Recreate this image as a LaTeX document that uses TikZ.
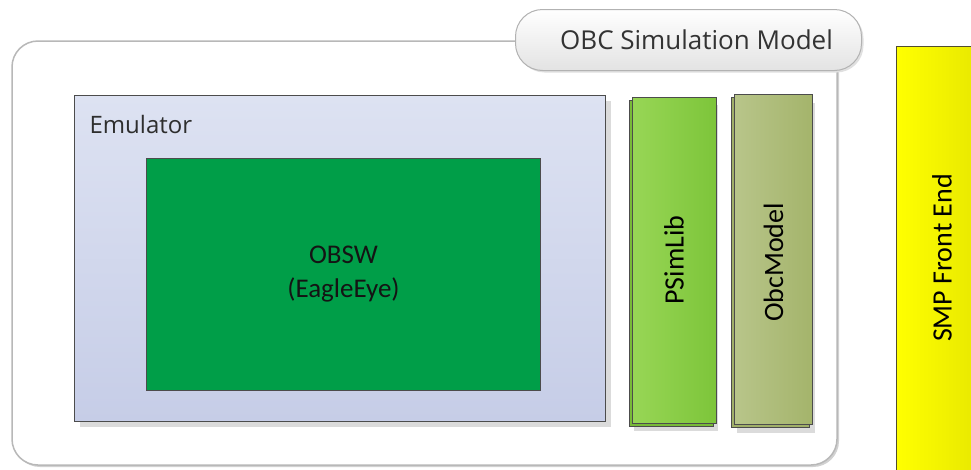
\documentclass[tikz,border=0pt]{standalone}
\usepackage{fontspec}
\setmainfont{Carlito}
\newfontfamily\titlefont{Open Sans}
\usetikzlibrary{calc,shapes,positioning,shadows}

\definecolor{emutop}{HTML}{DDE2F2}
\definecolor{emubot}{HTML}{C6CDE7}
\definecolor{obswgreen}{HTML}{009E48}
\definecolor{psimleft}{HTML}{98D656}
\definecolor{psimright}{HTML}{7DC53A}
\definecolor{psimback}{HTML}{78BA38}
\definecolor{obcleft}{HTML}{B8C58A}
\definecolor{obcright}{HTML}{A4B46B}
\definecolor{obcback}{HTML}{A0AF68}
\definecolor{smpleft}{HTML}{FFFF00}
\definecolor{smpright}{HTML}{E6E600}

\begin{document}
\begin{tikzpicture}[x=1pt,y=1pt,
    box/.style={draw=black!70,line width=1pt,rectangle,inner sep=0pt,anchor=north west},
    boxshadow/.style={drop shadow={shadow xshift=5pt,shadow yshift=-5pt,fill=black!14,opacity=1}},
    vlabel/.style={rotate=90,font=\fontsize{28}{32}\selectfont,text=black},
  ]
  \clip (0,0) rectangle (971,-469);
  \fill[white] (0,0) rectangle (971,-469);

  % outer frame of the simulation model
  \draw[draw=black!28,line width=1.5pt,rounded corners=26pt,fill=white,
    drop shadow={shadow xshift=2pt,shadow yshift=-2pt,fill=black!18,opacity=1}]
    (12,-41) coordinate(f1) rectangle (837,-465) coordinate(f2);

  % title tab
  \node[draw=black!30,line width=1pt,rounded corners=27pt,top color=white,bottom color=black!11,
    minimum width=346,minimum height=61,anchor=north west,
    drop shadow={shadow xshift=2pt,shadow yshift=-2pt,fill=black!12,opacity=1}] (tab) at (515,-9) {};
  \node[font=\titlefont\fontsize{26}{30}\selectfont,text=black!80] (tablabel) at ([xshift=8]tab.center) {OBC Simulation Model};

  % emulator with the flight software inside
  \node[box,boxshadow,top color=emutop,bottom color=emubot,minimum width=531,minimum height=326] (emu) at (74,-95) {};
  \node[anchor=base west,font=\titlefont\fontsize{24}{28}\selectfont,text=black!82] (emulabel) at ([xshift=12,yshift=-38]emu.north west) {Emulator};

  \node[box,fill=obswgreen,minimum width=394,minimum height=232,align=center,
    font=\fontsize{27}{34}\selectfont,text=black!92] (obsw) at (146,-158) {OBSW\\(EagleEye)};

  % stacked library blocks
  \node[box,boxshadow,fill=psimback,minimum width=84,minimum height=326] (psimb) at (628.5,-99.5) {};
  \node[box,left color=psimleft,right color=psimright,minimum width=84,minimum height=326] (psim) at (631.5,-96.5) {};
  \node[vlabel] (psimlabel) at (psim.center) {PSimLib};

  \node[box,boxshadow,fill=obcback,minimum width=78,minimum height=330] (obcb) at (731,-97) {};
  \node[box,left color=obcleft,right color=obcright,minimum width=78,minimum height=330] (obc) at (734,-94) {};
  \node[vlabel] (obclabel) at ([yshift=-3]obc.center) {ObcModel};

  % front end
  \node[box,draw=black!55!olive,left color=smpleft,right color=smpright,minimum width=90,minimum height=440] (smp) at (896,-46) {};
  \node[vlabel] (smplabel) at (942,-258) {SMP Front End};
\end{tikzpicture}
\end{document}
